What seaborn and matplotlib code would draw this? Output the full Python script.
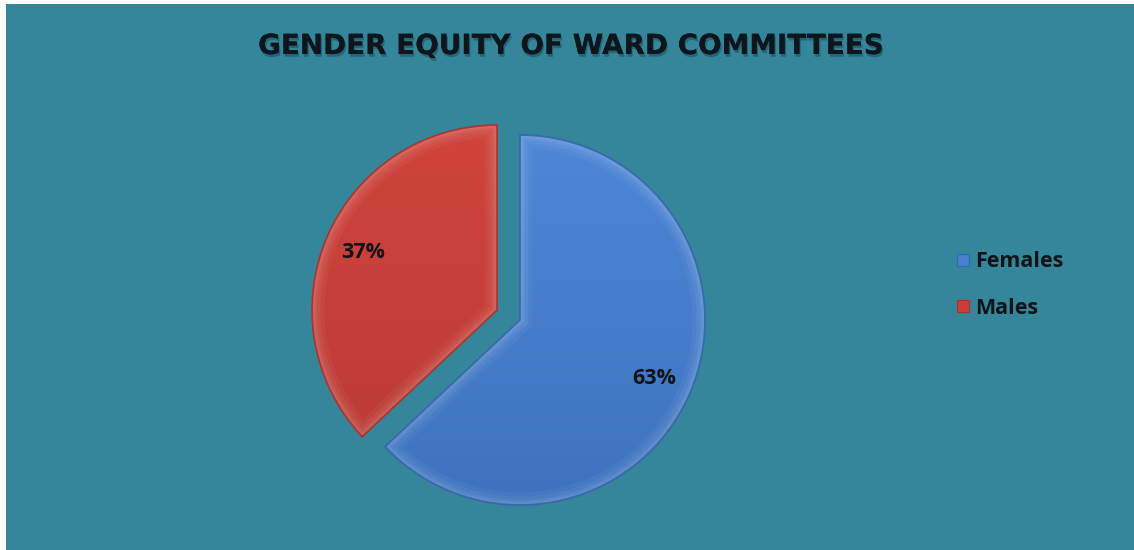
import numpy as np
import matplotlib
matplotlib.use("Agg")
import matplotlib.pyplot as plt
import matplotlib.patheffects as pe
from matplotlib.patches import Rectangle, Wedge
from matplotlib.lines import Line2D
import seaborn as sns

# Ward committee membership by gender (percent)
categories = ["Females", "Males"]
shares = [63, 37]
title_text = "GENDER EQUITY OF WARD COMMITTEES"

sns.set_theme(style="white")
plt.rcParams["font.family"] = ["Open Sans", "DejaVu Sans"]

base_colors = ["#4680cf", "#c9403a"]
light_colors = ["#5590de", "#d84a42"]
dark_colors = ["#3566ad", "#a8332e"]
bg_color = "#35869a"

W, H = 1134, 550
fig = plt.figure(figsize=(W / 100, H / 100), dpi=100, facecolor="white")
fig.patches.append(Rectangle((6 / W, 0), 1 - 6 / W, 1 - 4 / H,
                             transform=fig.transFigure, facecolor=bg_color,
                             edgecolor="none", zorder=-10))

ax = fig.add_axes([0, 0, 1, 1])
ax.set_zorder(1)
ax.patch.set_alpha(0)

center = (520, H - 320)
radius = 185
wedges, texts, autotexts = ax.pie(
    shares, colors=base_colors, startangle=90, counterclock=False,
    explode=[0, 25], center=center, radius=radius, autopct="%.0f%%",
    pctdistance=0.79, frame=True,
    wedgeprops=dict(edgecolor="none", linewidth=0),
    textprops=dict(fontsize=15.5, fontweight="bold", color="#101418"))
ax.set_xlim(0, W)
ax.set_ylim(0, H)
ax.set_aspect("equal")
ax.axis("off")

# vertical shading and bevelled rim for each slice
for w, lc, dc in zip(wedges, light_colors, dark_colors):
    cx, cy = w.center
    ext = np.linspace(0, 1, 256).reshape(-1, 1)
    cmap = matplotlib.colors.LinearSegmentedColormap.from_list("g", [dc, lc])
    im = ax.imshow(ext, cmap=cmap, origin="lower", aspect="auto",
                   extent=[cx - radius, cx + radius, cy - radius, cy + radius],
                   zorder=w.get_zorder() + 0.1, alpha=0.5)
    im.set_clip_path(w)
    for lw, a in [(18, 0.04), (12, 0.05), (7, 0.06), (4, 0.06)]:
        rim = Wedge(w.center, w.r, w.theta1, w.theta2, facecolor="none",
                    edgecolor="white", linewidth=lw, alpha=a,
                    zorder=w.get_zorder() + 0.2)
        ax.add_patch(rim)
        rim.set_clip_path(w)
    edge = Wedge(w.center, w.r, w.theta1, w.theta2, facecolor="none",
                 edgecolor=dc, linewidth=1.3, alpha=0.9,
                 zorder=w.get_zorder() + 0.3)
    ax.add_patch(edge)
ax.set_xlim(0, W)
ax.set_ylim(0, H)

for t in autotexts:
    t.set_zorder(5)
for t in texts:
    t.set_visible(False)

fig.text(570 / W, 1 - 46 / H, title_text, ha="center", va="center",
         fontsize=20, fontweight="bold", color="#0d161c",
         family=["DejaVu Sans"],
         path_effects=[pe.withSimplePatchShadow(offset=(1, -2),
                                                shadow_rgbFace="#0a2a33",
                                                alpha=0.35),
                       pe.Normal()])

handles = [Line2D([], [], linestyle="none", marker="s", markersize=9,
                  markerfacecolor=c, markeredgecolor=d, markeredgewidth=0.8)
           for c, d in zip(base_colors, dark_colors)]
leg = fig.legend(handles, categories, loc="center left",
                 bbox_to_anchor=(937 / W, 1 - 285 / H), frameon=False,
                 handlelength=0.6, handletextpad=0.25, labelspacing=1.2,
                 prop=dict(size=15.5, weight="bold"))
for t in leg.get_texts():
    t.set_color("#101418")

fig.savefig("out.png", dpi=100, facecolor="white")
